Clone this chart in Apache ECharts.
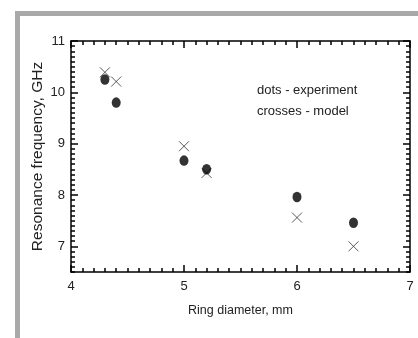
<!DOCTYPE html>
<html>
<head>
<meta charset="utf-8">
<script src="https://cdn.jsdelivr.net/npm/echarts@6/dist/echarts.min.js"></script>
<style>
  html, body { margin: 0; padding: 0; background: #fff; }
  #chart { width: 418px; height: 338px; }
</style>
</head>
<body>
<div id="chart"></div>
<script>
const diameters = [4.3, 4.4, 5.0, 5.2, 6.0, 6.5];
const experiment = [10.25, 9.8, 8.67, 8.5, 7.96, 7.46];
const model = [10.39, 10.21, 8.95, 8.43, 7.56, 7.0];
const yMajorTicks = [7, 8, 9, 10, 11];
const legendLines = ["dots - experiment", "crosses - model"];

const font = "Liberation Sans, Arial, sans-serif";
const ink = "#222";
const line = { color: "#000", width: 1.5 };

const chart = echarts.init(document.getElementById("chart"));

const pairs = (xs, ys) => xs.map((x, i) => [x, ys[i]]);

const xBase = {
  type: "value", min: 4, max: 7, interval: 1,
  axisLine: { show: true, onZero: false, lineStyle: line },
  axisTick: { show: true, inside: true, length: 7, lineStyle: line },
  minorTick: { show: true, splitNumber: 10, length: 4, lineStyle: line },
  splitLine: { show: false }
};

// minor ticks every 0.1, labels only on whole numbers
const yMinor = (pos) => ({
  type: "value", min: 6.5, max: 11, interval: 0.1, position: pos,
  axisLine: { show: true, onZero: false, lineStyle: line },
  axisTick: { show: true, inside: true, length: 4, lineStyle: line },
  axisLabel: { show: false },
  splitLine: { show: false }
});

// longer ticks on whole numbers
const yMajor = (pos) => ({
  type: "value", min: 6.5, max: 11, position: pos,
  axisLine: { show: false },
  axisTick: { show: true, inside: true, length: 7, customValues: yMajorTicks, lineStyle: line },
  axisLabel: { show: false },
  splitLine: { show: false }
});

const yLeft = yMinor("left");
yLeft.name = "Resonance frequency, GHz";
yLeft.nameLocation = "middle";
yLeft.nameGap = 25;
yLeft.nameMoveOverlap = false;
yLeft.nameTextStyle = { fontFamily: font, fontSize: 15.5, color: ink };
yLeft.axisLabel = {
  show: true, margin: 6, fontFamily: font, fontSize: 13, color: ink,
  formatter: (v) => Math.abs(v - Math.round(v)) < 1e-6 ? String(Math.round(v)) : ""
};

chart.setOption({
  animation: false,
  grid: { left: 71, right: 8, top: 41, bottom: 66 },
  graphic: [
    { type: "rect", shape: { x: 15, y: 11, width: 403, height: 5 }, style: { fill: "#a9a9a9" } },
    { type: "rect", shape: { x: 15, y: 11, width: 5, height: 327 }, style: { fill: "#a9a9a9" } },
    {
      type: "text", left: 257, top: 80,
      style: { text: legendLines.join("\n"), lineHeight: 21, font: "13px " + font, fill: ink }
    }
  ],
  xAxis: [
    Object.assign({}, xBase, {
      position: "bottom",
      name: "Ring diameter, mm", nameLocation: "middle", nameGap: 32,
      nameTextStyle: { fontFamily: font, fontSize: 12.5, color: ink },
      axisLabel: { margin: 8, fontFamily: font, fontSize: 13, color: ink }
    }),
    Object.assign({}, xBase, { position: "top", axisLabel: { show: false } })
  ],
  yAxis: [yLeft, yMajor("left"), yMinor("right"), yMajor("right")],
  series: [
    {
      name: "model", type: "scatter", xAxisIndex: 0, yAxisIndex: 0,
      data: pairs(diameters, model),
      symbol: "path://M0,0L10,10M10,0L0,10",
      symbolSize: 10,
      itemStyle: { color: "rgba(0,0,0,0)", borderColor: "#333", borderWidth: 1 }
    },
    {
      name: "experiment", type: "scatter", xAxisIndex: 0, yAxisIndex: 0,
      data: pairs(diameters, experiment),
      symbol: "circle",
      symbolSize: [9, 10.5],
      itemStyle: { color: "#000" }
    }
  ]
});
</script>
</body>
</html>
